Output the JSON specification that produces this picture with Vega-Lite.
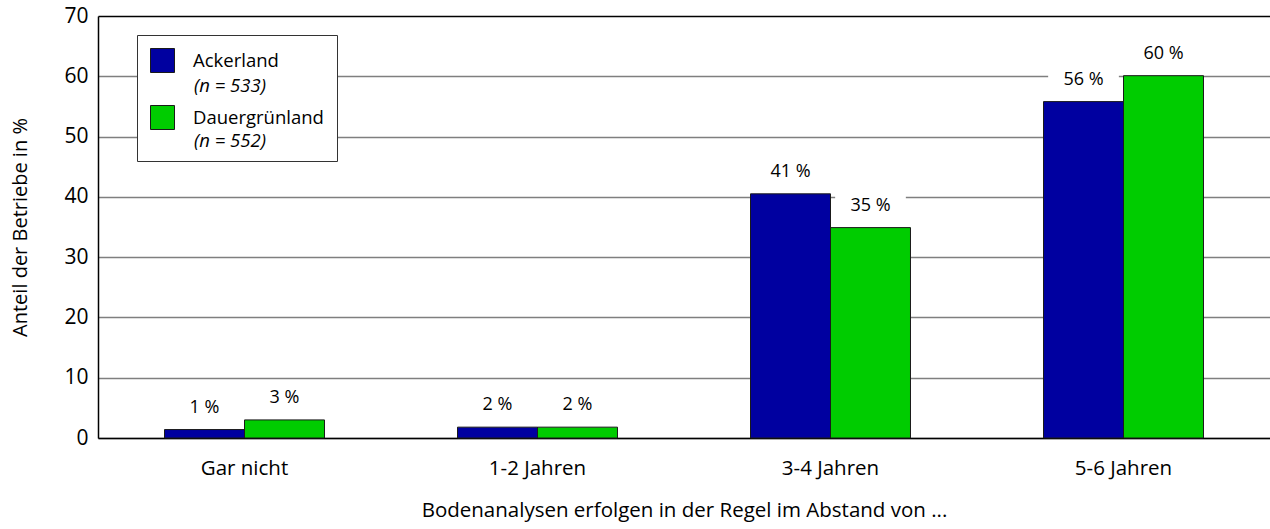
{
  "$schema": "https://vega.github.io/schema/vega-lite/v6.json",
  "width": 1172,
  "height": 422,
  "autosize": {"type": "none"},
  "padding": {"left": 98, "top": 16, "right": 0, "bottom": 91},
  "background": "white",
  "config": {"font": "Open Sans", "view": {"stroke": null}},
  "data": {
    "values": [
      {"cat": "Gar nicht", "series": "Ackerland", "n": "(n = 533)", "value": 1.4, "label": "1 %"},
      {"cat": "Gar nicht", "series": "Dauergrünland", "n": "(n = 552)", "value": 3.0, "label": "3 %"},
      {"cat": "1-2 Jahren", "series": "Ackerland", "n": "(n = 533)", "value": 1.8, "label": "2 %"},
      {"cat": "1-2 Jahren", "series": "Dauergrünland", "n": "(n = 552)", "value": 1.8, "label": "2 %"},
      {"cat": "3-4 Jahren", "series": "Ackerland", "n": "(n = 533)", "value": 40.5, "label": "41 %"},
      {"cat": "3-4 Jahren", "series": "Dauergrünland", "n": "(n = 552)", "value": 34.9, "label": "35 %"},
      {"cat": "5-6 Jahren", "series": "Ackerland", "n": "(n = 533)", "value": 55.8, "label": "56 %"},
      {"cat": "5-6 Jahren", "series": "Dauergrünland", "n": "(n = 552)", "value": 60.1, "label": "60 %"}
    ]
  },
  "encoding": {
    "x": {
      "field": "cat", "type": "nominal",
      "sort": ["Gar nicht", "1-2 Jahren", "3-4 Jahren", "5-6 Jahren"],
      "scale": {"paddingInner": 0.454, "paddingOuter": 0.227},
      "axis": {
        "title": "Bodenanalysen erfolgen in der Regel im Abstand von ...",
        "labelAngle": 0, "ticks": false, "grid": false,
        "domainColor": "black", "domainWidth": 1.5,
        "labelPadding": 20, "titlePadding": 22,
        "labelFontSize": 20.5, "titleFontSize": 20.5, "titleFontWeight": "normal",
        "labelColor": "black", "titleColor": "black"
      }
    },
    "xOffset": {
      "field": "series", "type": "nominal",
      "sort": ["Ackerland", "Dauergrünland"],
      "scale": {"paddingInner": 0, "paddingOuter": 0}
    },
    "y": {
      "field": "value", "type": "quantitative",
      "scale": {"domain": [0, 70], "nice": false},
      "axis": {
        "title": "Anteil der Betriebe in %",
        "values": [0, 10, 20, 30, 40, 50, 60, 70],
        "ticks": false, "grid": true,
        "gridColor": {"condition": {"test": "datum.value === 70", "value": "black"}, "value": "#7f7f7f"},
        "gridWidth": 1.5,
        "domainColor": "black", "domainWidth": 1.5,
        "labelPadding": 10, "titlePadding": 33,
        "labelFontSize": 21, "titleFontSize": 20, "titleFontWeight": "normal",
        "labelColor": "black", "titleColor": "black"
      }
    }
  },
  "layer": [
    {
      "mark": {"type": "bar", "stroke": "#1a1a1a", "strokeWidth": 1},
      "encoding": {
        "color": {
          "field": "series", "type": "nominal",
          "scale": {"domain": ["Ackerland", "Dauergrünland"], "range": ["#0000A0", "#00CC00"]},
          "legend": {
            "title": " ", "titleOrient": "bottom", "titleFontSize": 12, "titlePadding": 5,
            "orient": "none", "legendX": 39, "legendY": 19,
            "fillColor": "white", "strokeColor": "#333333", "padding": 13,
            "symbolType": "square", "symbolSize": 576,
            "symbolStrokeColor": "#1a1a1a", "symbolStrokeWidth": 1,
            "labelOffset": 18, "rowPadding": 28,
            "labelFontSize": 18.5, "labelColor": "black"
          }
        }
      }
    },
    {
      "mark": {"type": "point", "shape": "M-1,-0.3H1V0.3H-1Z", "filled": true, "fill": "white", "opacity": 1, "size": 5000, "yOffset": -22, "strokeWidth": 0}
    },
    {
      "mark": {"type": "text", "yOffset": -22, "baseline": "middle", "fontSize": 18, "color": "black"},
      "encoding": {"text": {"field": "label"}}
    },
    {
      "mark": {"type": "point", "opacity": 0},
      "encoding": {
        "shape": {
          "field": "n", "type": "nominal",
          "scale": {"domain": ["(n = 533)", "(n = 552)"], "range": ["square", "square"]},
          "legend": {
            "title": null, "orient": "none", "legendX": 39, "legendY": 44,
            "padding": 13, "symbolSize": 576, "symbolOpacity": 0,
            "labelOffset": 18, "rowPadding": 30,
            "labelFontSize": 18.5, "labelFontStyle": "italic", "labelColor": "black"
          }
        }
      }
    }
  ]
}
